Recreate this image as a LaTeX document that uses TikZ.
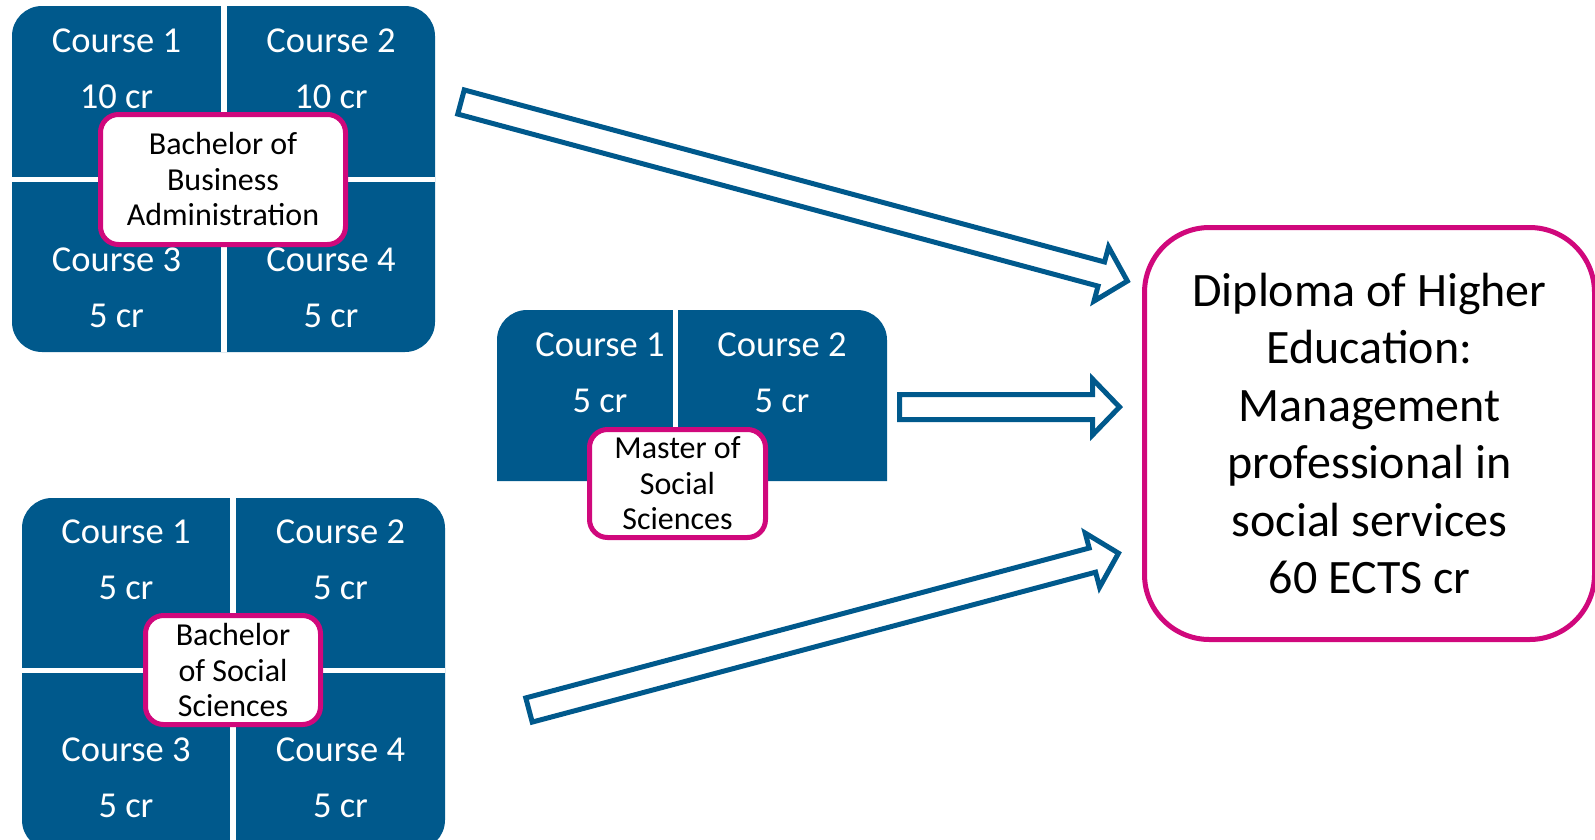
\documentclass[tikz,border=0pt]{standalone}
\usepackage{fontspec}
\setmainfont{Carlito}
\usepackage{tikz}
\usetikzlibrary{calc}
\definecolor{CourseBlue}{HTML}{00598C}
\definecolor{DegreePink}{HTML}{D0087C}
% hollow block arrow: tail coordinate, angle, length
\newcommand{\blockarrow}[3]{\draw[arrowline, shift={(#1)}, rotate=#2] (0,-12.5) -- (#3-27,-12.5) -- (#3-27,-28) -- (#3,0) -- (#3-27,28) -- (#3-27,12.5) -- (0,12.5) -- cycle;}

\begin{document}
\begin{tikzpicture}[x=1pt, y=-1pt,
    coursetext/.style={text=white, font=\fontsize{36.5}{56}\selectfont, align=center, inner sep=0pt},
    degree/.style={draw=DegreePink, line width=5pt, fill=white, rounded corners=18pt, align=center, inner sep=0pt, font=\fontsize{32}{35.5}\selectfont},
    gap/.style={white, line width=5.5pt},
    arrowline/.style={draw=CourseBlue, line width=5pt, fill=white, line join=miter}]
    \useasboundingbox (0,0) rectangle (1595,839);

    % Top left block - Bachelor of Business Administration
    \fill[CourseBlue, rounded corners=30pt] (12,6) rectangle (435,352);
    \draw[gap] (224,6) -- (224,352);
    \draw[gap] (12,179.5) -- (435,179.5);
    \node[coursetext] (bba1) at (116.5,68.5) {Course 1\\10 cr};
    \node[coursetext] (bba2) at (331,68.5) {Course 2\\10 cr};
    \node[coursetext] (bba3) at (116.5,288) {Course 3\\5 cr};
    \node[coursetext] (bba4) at (331,288) {Course 4\\5 cr};
    \node[degree, minimum width=245, minimum height=130] (bba) at (223,179.5) {Bachelor of\\Business\\Administration};

    % Middle block - Master of Social Sciences
    \fill[CourseBlue] (497,481) [rounded corners=30pt] -- (497,310) -- (887,310) [sharp corners] -- (887,481) -- cycle;
    \draw[gap] (675.5,310) -- (675.5,481);
    \node[coursetext] (mss1) at (600,373) {Course 1\\5 cr};
    \node[coursetext] (mss2) at (782,373) {Course 2\\5 cr};
    \node[degree, minimum width=176, minimum height=108] (mss) at (677.5,483.5) {Master of\\Social\\Sciences};

    % Bottom left block - Bachelor of Social Sciences
    \fill[CourseBlue, rounded corners=30pt] (22,498) rectangle (445,850);
    \draw[gap] (233,498) -- (233,850);
    \draw[gap] (22,670.5) -- (445,670.5);
    \node[coursetext] (bss1) at (126,559.5) {Course 1\\5 cr};
    \node[coursetext] (bss2) at (340.5,559.5) {Course 2\\5 cr};
    \node[coursetext] (bss3) at (126,778) {Course 3\\5 cr};
    \node[coursetext] (bss4) at (340.5,778) {Course 4\\5 cr};
    \node[degree, minimum width=175, minimum height=109] (bss) at (233,670) {Bachelor\\of Social\\Sciences};

    % Result box
    \node[degree, rounded corners=65pt, minimum width=450, minimum height=412, font=\fontsize{48}{57.5}\selectfont] (dhe) at (1369.5,433.5)
        {Diploma of Higher\\Education:\\Management\\professional in\\social services\\60 ECTS cr};

    % Arrows to result
    \coordinate (bbaout) at (461,102);
    \coordinate (mssout) at (899.5,407);
    \coordinate (bssout) at (529,710);
    \blockarrow{bbaout}{-15.04}{690}
    \blockarrow{mssout}{0}{220}
    \blockarrow{bssout}{14.9}{610}

\end{tikzpicture}
\end{document}
